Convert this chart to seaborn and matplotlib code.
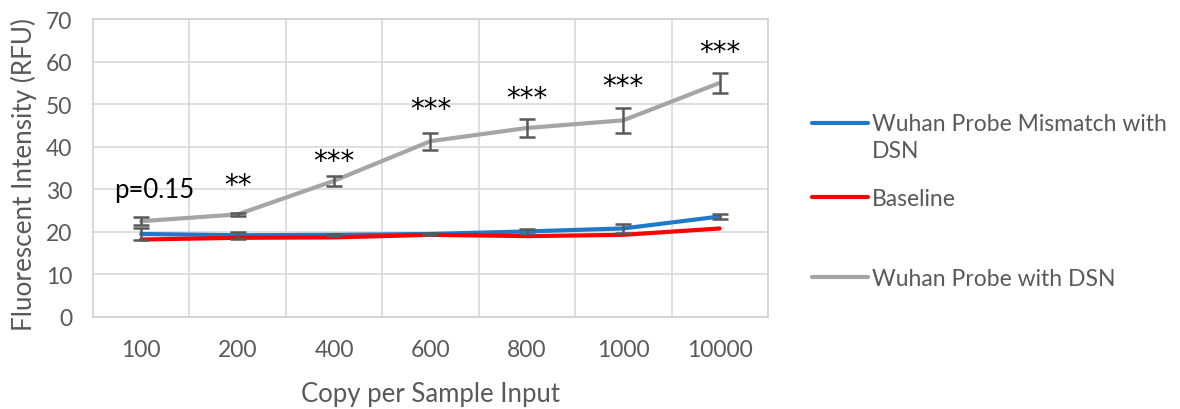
import matplotlib
matplotlib.use("Agg")
import matplotlib.pyplot as plt
import seaborn as sns
import pandas as pd
import numpy as np
from matplotlib.ticker import FixedLocator
from matplotlib.legend_handler import HandlerLine2D

# ---- data ----
categories = ["100", "200", "400", "600", "800", "1000", "10000"]
mismatch = [19.5, 19.2, 19.3, 19.5, 20.1, 20.8, 23.6]
mismatch_err = [1.5, 0.8, 0.3, 0.3, 0.5, 1.0, 0.6]
baseline = [18.2, 18.6, 18.7, 19.3, 19.0, 19.3, 20.8]
probe = [22.5, 24.1, 32.0, 41.3, 44.4, 46.2, 55.0]
probe_err = [1.0, 0.3, 1.2, 2.0, 2.2, 3.0, 2.4]
annotations = ["p=0.15", "**", "***", "***", "***", "***", "***"]
annot_y = [30.0, 31.0, 36.6, 48.8, 51.4, 54.2, 62.2]

labels = ["Wuhan Probe Mismatch with\nDSN", "Baseline", "Wuhan Probe with DSN"]
colors = ["#1F78C8", "#FF0000", "#A5A5A5"]

df = pd.DataFrame({
    "Copy": categories * 3,
    "RFU": mismatch + baseline + probe,
    "Series": [labels[0]] * 7 + [labels[1]] * 7 + [labels[2]] * 7,
})

sns.set_theme(style="white")
plt.rcParams["font.family"] = ["Lato", "DejaVu Sans"]

fig = plt.figure(figsize=(11.8, 4.1), dpi=100)
ax = fig.add_axes([0.0788, 0.2244, 0.572, 0.7268])

sns.lineplot(data=df, x="Copy", y="RFU", hue="Series", hue_order=labels,
             palette=colors, sort=False, linewidth=3, ax=ax, legend=True)

xpos = np.arange(len(categories))
ekw = dict(fmt="none", ecolor="#595959", elinewidth=1.8, capsize=6, capthick=1.8, zorder=5)
ax.errorbar(xpos, probe, yerr=probe_err, **ekw)
ax.errorbar(xpos, mismatch, yerr=mismatch_err, **ekw)

for i, (t, y) in enumerate(zip(annotations, annot_y)):
    if t.startswith("p"):
        ax.text(xpos[i] + 0.14, y, t, ha="center", va="center", fontsize=18.5, color="black")
    else:
        ax.text(xpos[i], y, t, ha="center", va="center", fontsize=20,
                color="black", family=["DejaVu Sans"])

ax.set_xlim(-0.5, 6.5)
ax.set_ylim(0, 70)
ax.set_yticks(range(0, 71, 10))
ax.xaxis.set_minor_locator(FixedLocator(np.arange(0.5, 6.0, 1.0)))
ax.yaxis.grid(True, color="#D9D9D9", linewidth=1.2)
ax.xaxis.grid(True, which="minor", color="#D9D9D9", linewidth=1.2)
ax.xaxis.grid(False, which="major")
ax.set_axisbelow(True)
for s in ax.spines.values():
    s.set_color("#D0D0D0")
    s.set_linewidth(1.2)
ax.tick_params(axis="both", which="both", length=0, labelsize=16.5, colors="#595959")
ax.tick_params(axis="x", pad=16)
ax.tick_params(axis="y", pad=15)
ax.set_xlabel("Copy per Sample Input", fontsize=18.5, color="#595959")
ax.set_ylabel("Fluorescent Intensity (RFU)", fontsize=18.8, color="#595959")
ax.xaxis.set_label_coords(0.5, -0.215)
ax.yaxis.set_label_coords(-0.083, 0.48)

# legend: one entry per box so each sits where the reference puts it
handles, lbls = ax.get_legend_handles_labels()
if ax.get_legend():
    ax.get_legend().remove()


class TopHandler(HandlerLine2D):
    def create_artists(self, legend, orig_handle, xdescent, ydescent, width, height, fontsize, trans):
        arts = super().create_artists(legend, orig_handle, xdescent, ydescent, width, height, fontsize, trans)
        for a in arts:
            a.set_ydata(np.asarray(a.get_ydata()) + 0.62 * fontsize)
        return arts


ycent = [1 - 138 / 410, 1 - 200 / 410, 1 - 280 / 410]
for k, (h, l, yc) in enumerate(zip(handles, lbls, ycent)):
    kw = dict(loc="center left", bbox_to_anchor=(812 / 1180, yc), bbox_transform=fig.transFigure,
              frameon=False, fontsize=16.5, handlelength=2.45, handletextpad=0.18,
              borderpad=0, borderaxespad=0, labelcolor="#595959")
    if k == 0:
        kw["handler_map"] = {h: TopHandler()}
    leg = fig.legend([h], [l], **kw)
    for line in leg.get_lines():
        line.set_linewidth(3)
    for t in leg.get_texts():
        t.set_linespacing(1.3)

fig.savefig("out.png", dpi=100)
